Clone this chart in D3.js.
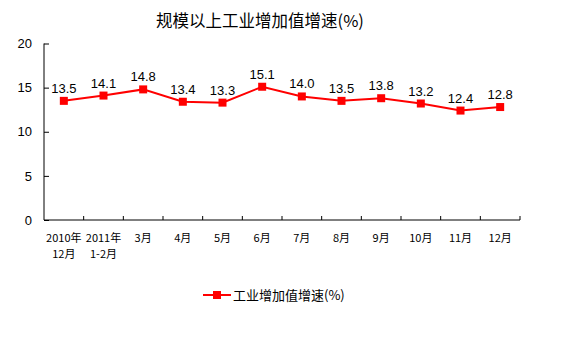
<!DOCTYPE html>
<html><head><meta charset="utf-8">
<script src="https://cdn.jsdelivr.net/npm/d3@7/dist/d3.min.js"></script>
<style>body{margin:0;background:#fff}svg{display:block}</style>
</head><body>
<script>
const categories = [["2010年","12月"],["2011年","1-2月"],["3月"],["4月"],["5月"],["6月"],["7月"],["8月"],["9月"],["10月"],["11月"],["12月"]];
const values = [13.5,14.1,14.8,13.4,13.3,15.1,14.0,13.5,13.8,13.2,12.4,12.8];
const yTicks = [0,5,10,15,20];
const title = "规模以上工业增加值增速(%)";
const seriesName = "工业增加值增速(%)";

const W=574,H=357;
const svg=d3.select("body").append("svg").attr("width",W).attr("height",H);
const font="'Liberation Sans', Arial, 'Noto Sans CJK SC', sans-serif";
const x=d3.scaleBand().domain(d3.range(categories.length)).range([44,520]);
const y=d3.scaleLinear().domain([0,20]).range([220,43.5]);

svg.append("text").attr("x",260).attr("y",27).attr("text-anchor","middle")
  .attr("font-family","'Noto Sans CJK SC', sans-serif").attr("font-size",16.5).attr("fill","#000").text(title);

// y axis
const ya=svg.append("g").attr("transform","translate(44,0)")
  .call(d3.axisLeft(y).tickValues(yTicks).tickSize(-5).tickPadding(12));
ya.select(".domain").attr("stroke","#000").attr("d","M0,43.5V220");
ya.selectAll("text").attr("font-family",font).attr("font-size",13).attr("fill","#000");
ya.selectAll("line").attr("stroke","#000");

// x axis
const xa=svg.append("g").attr("transform","translate(0,220)");
xa.append("line").attr("x1",44).attr("x2",520).attr("stroke","#000");
const tickPos=d3.range(categories.length+1).map(i=>i<categories.length?x(i):x.range()[1]);
xa.selectAll("line.t").data(tickPos.slice(1)).join("line").attr("class","t")
  .attr("x1",d=>d).attr("x2",d=>d).attr("y1",0).attr("y2",-4).attr("stroke","#000");
const lab=xa.selectAll("text.c").data(categories).join("text").attr("class","c")
  .attr("text-anchor","middle").attr("font-family","'Noto Sans CJK SC', sans-serif")
  .attr("font-size",11).attr("fill","#000");
lab.each(function(d,i){
  const t=d3.select(this);
  d.forEach((s,j)=>t.append("tspan").attr("x",x(i)+x.bandwidth()/2).attr("y",22+j*16).text(s));
});

// line
const cx=i=>x(i)+x.bandwidth()/2;
svg.append("path").datum(values).attr("fill","none").attr("stroke","#f00").attr("stroke-width",2)
  .attr("d",d3.line().x((d,i)=>cx(i)).y(d=>y(d)));
svg.selectAll("rect.m").data(values).join("rect").attr("class","m")
  .attr("x",(d,i)=>cx(i)-4).attr("y",d=>y(d)-4).attr("width",8).attr("height",8).attr("fill","#f00");
svg.selectAll("text.v").data(values).join("text").attr("class","v")
  .attr("x",(d,i)=>cx(i)).attr("y",d=>y(d)-8).attr("text-anchor","middle")
  .attr("font-family",font).attr("font-size",13).attr("fill","#000").text(d=>d.toFixed(1));

// legend
const lg=svg.append("g");
lg.append("line").attr("x1",203).attr("x2",231).attr("y1",295).attr("y2",295).attr("stroke","#f00").attr("stroke-width",2);
lg.append("rect").attr("x",213).attr("y",291).attr("width",8).attr("height",8).attr("fill","#f00");
lg.append("text").attr("x",233).attr("y",300).attr("font-family","'Noto Sans CJK SC', sans-serif")
  .attr("font-size",13).attr("fill","#000").text(seriesName);
</script>
</body></html>
